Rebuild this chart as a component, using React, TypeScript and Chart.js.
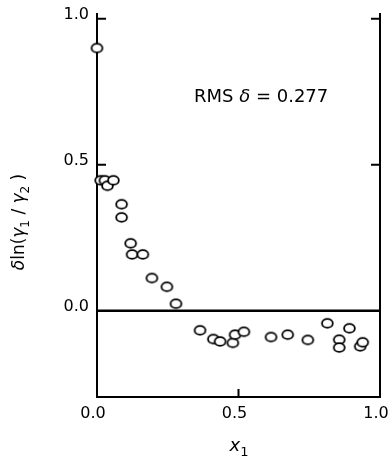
import React, { useEffect, useRef } from "react";
import { Chart, registerables } from "chart.js";

Chart.register(...registerables);

const xValues = [0.0, 0.013, 0.028, 0.037, 0.058, 0.087, 0.087, 0.119, 0.124, 0.162, 0.194, 0.247, 0.279, 0.364, 0.411, 0.435, 0.48, 0.488, 0.519, 0.615, 0.674, 0.745, 0.814, 0.856, 0.856, 0.892, 0.93, 0.939];
const yValues = [0.9, 0.447, 0.447, 0.428, 0.447, 0.365, 0.32, 0.231, 0.193, 0.193, 0.112, 0.082, 0.024, -0.067, -0.097, -0.105, -0.11, -0.082, -0.072, -0.09, -0.082, -0.1, -0.043, -0.099, -0.126, -0.06, -0.122, -0.108];
const xTicks = [0, 0.5, 1.0];
const yTicks = [0, 0.5, 1.0];
const annotationText = ["RMS ", "δ", " = 0.277"];

const FONT = "'DejaVu Sans', sans-serif";

type Seg = { t: string; it?: boolean; sub?: boolean };

function drawRich(ctx: CanvasRenderingContext2D, segs: Seg[], x: number, y: number, size: number, align: "left" | "center") {
  const fontOf = (s: Seg) => `${s.it ? "italic " : ""}${s.sub ? Math.round(size * 0.7) : size}px ${FONT}`;
  let total = 0;
  const widths = segs.map((s) => {
    ctx.font = fontOf(s);
    const w = ctx.measureText(s.t).width;
    total += w;
    return w;
  });
  let cx = align === "center" ? x - total / 2 : x;
  ctx.textBaseline = "middle";
  ctx.textAlign = "left";
  segs.forEach((s, i) => {
    ctx.font = fontOf(s);
    ctx.fillText(s.t, cx, s.sub ? y + size * 0.35 : y);
    cx += widths[i];
  });
}

function makeEllipse(): HTMLCanvasElement {
  const c = document.createElement("canvas");
  c.width = 15;
  c.height = 13;
  const g = c.getContext("2d")!;
  g.fillStyle = "#fff";
  g.strokeStyle = "#000";
  g.lineWidth = 1.8;
  g.beginPath();
  g.ellipse(7.5, 6.5, 5.4, 4.4, 0, 0, Math.PI * 2);
  g.fill();
  g.stroke();
  return c;
}

const framePlugin = {
  id: "frame",
  beforeDatasetsDraw(chart: any) {
    const ctx = chart.ctx as CanvasRenderingContext2D;
    const xs = chart.scales.x;
    const ys = chart.scales.y;
    const { top, bottom } = chart.chartArea;
    const x0 = xs.getPixelForValue(0);
    const x1 = xs.getPixelForValue(1);
    const yZero = ys.getPixelForValue(0);
    ctx.save();
    ctx.strokeStyle = "#000";
    ctx.lineCap = "butt";
    ctx.lineWidth = 2;
    ctx.beginPath();
    ctx.moveTo(x0, top);
    ctx.lineTo(x0, bottom);
    ctx.moveTo(x0 - 1, bottom);
    ctx.lineTo(x1 + 1, bottom);
    ctx.moveTo(x1, top);
    ctx.lineTo(x1, bottom);
    [0.5, 1.0].forEach((v) => {
      const py = ys.getPixelForValue(v);
      ctx.moveTo(x0, py);
      ctx.lineTo(x0 + 9, py);
      ctx.moveTo(x1, py);
      ctx.lineTo(x1 - 9, py);
    });
    const px = xs.getPixelForValue(0.5);
    ctx.moveTo(px, bottom);
    ctx.lineTo(px, bottom - 8);
    ctx.stroke();
    ctx.lineWidth = 2.5;
    ctx.beginPath();
    ctx.moveTo(x0, yZero);
    ctx.lineTo(x1, yZero);
    ctx.stroke();
    ctx.restore();
  },
  afterDraw(chart: any) {
    const ctx = chart.ctx as CanvasRenderingContext2D;
    ctx.save();
    ctx.fillStyle = "#000";
    drawRich(ctx, [{ t: annotationText[0] }, { t: annotationText[1], it: true }, { t: annotationText[2] }], 194, 97, 18, "left");
    drawRich(ctx, [{ t: "x", it: true }, { t: "1", sub: true }], 239, 446, 18, "center");
    ctx.translate(20, 222);
    ctx.rotate(-Math.PI / 2);
    drawRich(
      ctx,
      [
        { t: "δ", it: true },
        { t: "ln(" },
        { t: "γ", it: true },
        { t: "1", sub: true },
        { t: " / " },
        { t: "γ", it: true },
        { t: "2", sub: true },
        { t: " )" },
      ],
      0,
      0,
      17,
      "center"
    );
    ctx.restore();
  },
};

export default function App() {
  const ref = useRef<HTMLCanvasElement>(null);
  useEffect(() => {
    if (!ref.current) return;
    const tickFont = { family: FONT, size: 16 };
    const chart = new Chart(ref.current, {
      type: "scatter",
      data: {
        datasets: [
          {
            data: xValues.map((x, i) => ({ x, y: yValues[i] })),
            pointStyle: makeEllipse() as any,
            pointRadius: 5,
            borderColor: "#000",
            backgroundColor: "#fff",
            clip: false as any,
          },
        ],
      },
      options: {
        responsive: false,
        devicePixelRatio: 1,
        animation: false,
        layout: { padding: { top: 13, right: 9, left: 0, bottom: 0 } },
        plugins: { legend: { display: false }, tooltip: { enabled: false } },
        scales: {
          x: {
            type: "linear",
            min: 0,
            max: 1,
            afterFit: (s: any) => {
              s.height = 68;
              s.paddingLeft = 0;
              s.paddingRight = 0;
            },
            afterBuildTicks: (s: any) => {
              s.ticks = xTicks.map((v) => ({ value: v }));
            },
            ticks: {
              font: tickFont,
              color: "#000",
              padding: 7,
              labelOffset: -4,
              maxRotation: 0,
              autoSkip: false,
              callback: (v: any) => Number(v).toFixed(1),
            },
            grid: { display: false, drawTicks: false },
            border: { display: false },
          },
          y: {
            type: "linear",
            min: -0.2955,
            max: 1.02,
            afterFit: (s: any) => {
              s.width = 97;
              s.paddingTop = 0;
              s.paddingBottom = 0;
            },
            afterBuildTicks: (s: any) => {
              s.ticks = yTicks.map((v) => ({ value: v }));
            },
            ticks: {
              font: tickFont,
              color: "#000",
              padding: 8,
              labelOffset: -4,
              autoSkip: false,
              callback: (v: any) => Number(v).toFixed(1),
            },
            grid: { display: false, drawTicks: false },
            border: { display: false },
          },
        },
      },
      plugins: [framePlugin],
    });
    return () => chart.destroy();
  }, []);
  return (
    <div style={{ position: "fixed", left: 0, top: 0, width: 389, height: 465, background: "#fff" }}>
      <canvas ref={ref} width={389} height={465} />
    </div>
  );
}
